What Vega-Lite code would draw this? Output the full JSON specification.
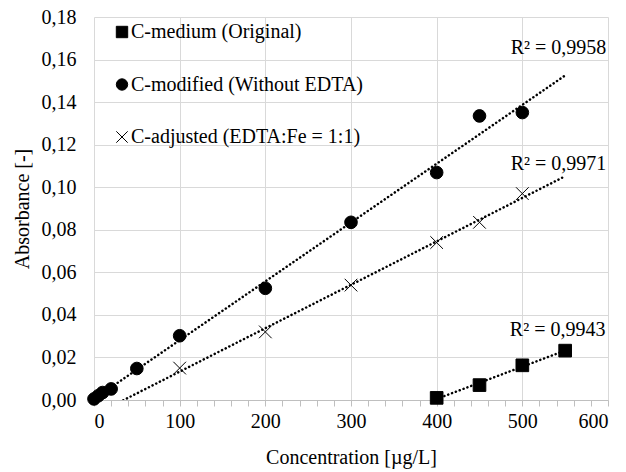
{
  "$schema": "https://vega.github.io/schema/vega-lite/v6.json",
  "width": 514,
  "height": 383,
  "autosize": {"type": "none"},
  "padding": {"left": 94, "top": 17, "right": 18, "bottom": 72},
  "background": "white",
  "config": {
    "locale": {"number": {"decimal": ",", "thousands": ".", "grouping": [3], "currency": ["", ""]}},
    "font": "Liberation Serif",
    "view": {"stroke": null},
    "axis": {
      "labelFont": "Liberation Serif",
      "titleFont": "Liberation Serif",
      "labelFontSize": 20,
      "titleFontSize": 20,
      "labelColor": "#000000",
      "titleColor": "#000000",
      "titleFontWeight": "normal",
      "gridColor": "#d9d9d9",
      "gridWidth": 1
    },
    "legend": {"labelFont": "Liberation Serif"}
  },
  "datasets": {
    "points": [
      {"series": "C-medium (Original)", "conc": 400, "absorbance": 0.001},
      {"series": "C-medium (Original)", "conc": 450, "absorbance": 0.007},
      {"series": "C-medium (Original)", "conc": 500, "absorbance": 0.0163},
      {"series": "C-medium (Original)", "conc": 550, "absorbance": 0.0232},
      {"series": "C-modified (Without EDTA)", "conc": 0, "absorbance": 0.0005},
      {"series": "C-modified (Without EDTA)", "conc": 5, "absorbance": 0.002},
      {"series": "C-modified (Without EDTA)", "conc": 10, "absorbance": 0.0035},
      {"series": "C-modified (Without EDTA)", "conc": 20, "absorbance": 0.0052},
      {"series": "C-modified (Without EDTA)", "conc": 50, "absorbance": 0.0148},
      {"series": "C-modified (Without EDTA)", "conc": 100, "absorbance": 0.0302},
      {"series": "C-modified (Without EDTA)", "conc": 200, "absorbance": 0.0525},
      {"series": "C-modified (Without EDTA)", "conc": 300, "absorbance": 0.0835},
      {"series": "C-modified (Without EDTA)", "conc": 400, "absorbance": 0.1069},
      {"series": "C-modified (Without EDTA)", "conc": 450, "absorbance": 0.1335},
      {"series": "C-modified (Without EDTA)", "conc": 500, "absorbance": 0.1351},
      {"series": "C-adjusted (EDTA:Fe = 1:1)", "conc": 100, "absorbance": 0.015},
      {"series": "C-adjusted (EDTA:Fe = 1:1)", "conc": 200, "absorbance": 0.032},
      {"series": "C-adjusted (EDTA:Fe = 1:1)", "conc": 300, "absorbance": 0.054},
      {"series": "C-adjusted (EDTA:Fe = 1:1)", "conc": 400, "absorbance": 0.074},
      {"series": "C-adjusted (EDTA:Fe = 1:1)", "conc": 450, "absorbance": 0.0835},
      {"series": "C-adjusted (EDTA:Fe = 1:1)", "conc": 500, "absorbance": 0.097}
    ],
    "labels": [
      {"label": "R² = 0,9958", "conc": 598, "absorbance": 0.1654},
      {"label": "R² = 0,9971", "conc": 598, "absorbance": 0.1109},
      {"label": "R² = 0,9943", "conc": 597, "absorbance": 0.0329}
    ]
  },
  "layer": [
    {
      "data": {"name": "points"},
      "mark": {"type": "point", "filled": false, "strokeWidth": 1, "size": 160, "opacity": 1},
      "encoding": {
        "x": {
          "field": "conc", "type": "quantitative",
          "scale": {"domain": [0, 600], "nice": false},
          "axis": {
            "title": "Concentration [µg/L]",
            "values": [0, 20, 40, 60, 80, 100, 120, 140, 160, 180, 200, 220, 240, 260, 280, 300, 320, 340, 360, 380, 400, 420, 440, 460, 480, 500, 520, 540, 560, 580, 600],
            "tickCount": 31,
            "labelExpr": "datum.value % 100 === 0 ? format(datum.value, 'd') : ''",
            "labelOverlap": false,
            "gridOpacity": {"condition": {"test": "datum.value % 100 === 0", "value": 1}, "value": 0},
            "tickColor": "#bfbfbf",
            "tickSize": 6,
            "domainColor": "#bfbfbf",
            "labelPadding": 5,
            "titlePadding": 16
          }
        },
        "y": {
          "field": "absorbance", "type": "quantitative",
          "scale": {"domain": [0, 0.18], "nice": false},
          "axis": {
            "title": "Absorbance [-]",
            "values": [0, 0.02, 0.04, 0.06, 0.08, 0.1, 0.12, 0.14, 0.16, 0.18],
            "tickCount": 10,
            "format": ".2f",
            "ticks": false,
            "domain": false,
            "labelPadding": 18,
            "titlePadding": 9
          }
        },
        "shape": {
          "field": "series", "type": "nominal",
          "scale": {
            "domain": ["C-medium (Original)", "C-modified (Without EDTA)", "C-adjusted (EDTA:Fe = 1:1)"],
            "range": ["square", "circle", "M-1,-1L1,1M-1,1L1,-1"]
          },
          "legend": {
            "title": null,
            "orient": "none",
            "legendX": 18,
            "legendY": 5,
            "labelFontSize": 20,
            "labelColor": "#000000",
            "labelLimit": 0,
            "symbolSize": 130,
            "symbolStrokeWidth": 1,
            "symbolOpacity": 1,
            "rowPadding": 32.5,
            "labelOffset": -1
          }
        },
        "fill": {
          "field": "series", "type": "nominal",
          "scale": {
            "domain": ["C-medium (Original)", "C-modified (Without EDTA)", "C-adjusted (EDTA:Fe = 1:1)"],
            "range": ["#000000", "#000000", "transparent"]
          },
          "legend": {
            "title": null,
            "orient": "none",
            "legendX": 18,
            "legendY": 5,
            "labelFontSize": 20,
            "labelColor": "#000000",
            "labelLimit": 0,
            "symbolSize": 130,
            "symbolStrokeWidth": 1,
            "symbolOpacity": 1,
            "rowPadding": 32.5,
            "labelOffset": -1
          }
        },
        "stroke": {
          "field": "series", "type": "nominal",
          "scale": {
            "domain": ["C-medium (Original)", "C-modified (Without EDTA)", "C-adjusted (EDTA:Fe = 1:1)"],
            "range": ["#000000", "#000000", "#000000"]
          },
          "legend": {
            "title": null,
            "orient": "none",
            "legendX": 18,
            "legendY": 5,
            "labelFontSize": 20,
            "labelColor": "#000000",
            "labelLimit": 0,
            "symbolSize": 130,
            "symbolStrokeWidth": 1,
            "symbolOpacity": 1,
            "rowPadding": 32.5,
            "labelOffset": -1
          }
        }
      }
    },
    {
      "data": {"name": "points"},
      "transform": [
        {"filter": "datum.series === 'C-modified (Without EDTA)'"},
        {"regression": "absorbance", "on": "conc", "extent": [0, 550]}
      ],
      "mark": {"type": "line", "color": "#000000", "strokeWidth": 2.5, "strokeDash": [0.1, 4], "strokeCap": "round", "clip": true},
      "encoding": {
        "x": {"field": "conc", "type": "quantitative"},
        "y": {"field": "absorbance", "type": "quantitative"}
      }
    },
    {
      "data": {"name": "points"},
      "transform": [
        {"filter": "datum.series === 'C-adjusted (EDTA:Fe = 1:1)'"},
        {"regression": "absorbance", "on": "conc", "extent": [0, 550]}
      ],
      "mark": {"type": "line", "color": "#000000", "strokeWidth": 2.5, "strokeDash": [0.1, 4], "strokeCap": "round", "clip": true},
      "encoding": {
        "x": {"field": "conc", "type": "quantitative"},
        "y": {"field": "absorbance", "type": "quantitative"}
      }
    },
    {
      "data": {"name": "points"},
      "transform": [
        {"filter": "datum.series === 'C-medium (Original)'"},
        {"regression": "absorbance", "on": "conc", "extent": [400, 550]}
      ],
      "mark": {"type": "line", "color": "#000000", "strokeWidth": 2.5, "strokeDash": [0.1, 4], "strokeCap": "round", "clip": true},
      "encoding": {
        "x": {"field": "conc", "type": "quantitative"},
        "y": {"field": "absorbance", "type": "quantitative"}
      }
    },
    {
      "data": {"name": "labels"},
      "mark": {"type": "text", "align": "right", "baseline": "middle", "font": "Liberation Serif", "fontSize": 20, "color": "#000000"},
      "encoding": {
        "x": {"field": "conc", "type": "quantitative"},
        "y": {"field": "absorbance", "type": "quantitative"},
        "text": {"field": "label"}
      }
    }
  ]
}
